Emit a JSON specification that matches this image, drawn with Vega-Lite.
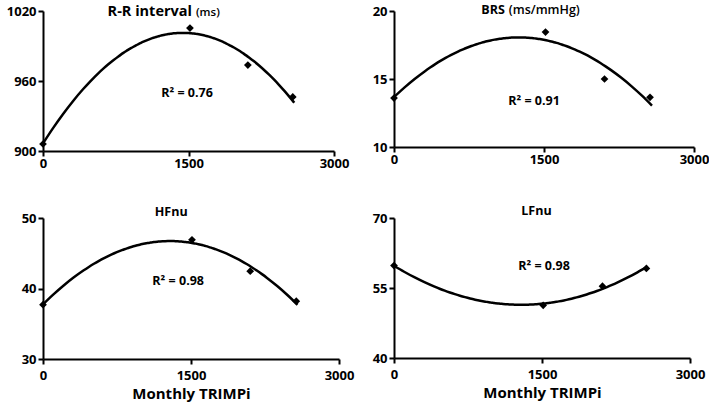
{
  "$schema": "https://vega.github.io/schema/vega-lite/v6.json",
  "padding": {"left": 6, "top": 3, "right": 0, "bottom": 1},
  "background": "white",
  "datasets": {
    "pts": [
      {"panel": "RR", "x": 0, "y": 906},
      {"panel": "RR", "x": 1515, "y": 1005.4},
      {"panel": "RR", "x": 2112, "y": 973.7},
      {"panel": "RR", "x": 2575, "y": 946.3},
      {"panel": "BRS", "x": 0, "y": 13.6},
      {"panel": "BRS", "x": 1515, "y": 18.45},
      {"panel": "BRS", "x": 2105, "y": 15.0},
      {"panel": "BRS", "x": 2560, "y": 13.65},
      {"panel": "HF", "x": 0, "y": 37.7},
      {"panel": "HF", "x": 1510, "y": 46.9},
      {"panel": "HF", "x": 2100, "y": 42.45},
      {"panel": "HF", "x": 2567, "y": 38.2},
      {"panel": "LF", "x": 0, "y": 59.8},
      {"panel": "LF", "x": 1512, "y": 51.3},
      {"panel": "LF", "x": 2113, "y": 55.4},
      {"panel": "LF", "x": 2558, "y": 59.2}
    ],
    "labels": [
      {"panel": "RR", "kind": "main", "x": 1536, "y": 1019, "t": "R-R interval"},
      {"panel": "RR", "kind": "sub", "x": 1577, "y": 1019, "t": "(ms)"},
      {"panel": "RR", "kind": "r2", "x": 1485, "y": 949.7, "t": "R² = 0.76"},
      {"panel": "BRS", "kind": "main", "x": 1109, "y": 20.1, "t": "BRS"},
      {"panel": "BRS", "kind": "sub", "x": 1148, "y": 20.1, "t": "(ms/mmHg)"},
      {"panel": "BRS", "kind": "r2", "x": 1400, "y": 13.4, "t": "R² = 0.91"},
      {"panel": "HF", "kind": "main", "x": 1299, "y": 50.8, "t": "HFnu"},
      {"panel": "HF", "kind": "r2", "x": 1370, "y": 41.1, "t": "R² = 0.98"},
      {"panel": "LF", "kind": "main", "x": 1444, "y": 71.4, "t": "LFnu"},
      {"panel": "LF", "kind": "r2", "x": 1520, "y": 59.8, "t": "R² = 0.98"}
    ]
  },
  "config": {
    "font": "Open Sans",
    "view": {"stroke": null},
    "axis": {
      "grid": false,
      "domainColor": "black",
      "domainWidth": 2,
      "tickColor": "black",
      "tickWidth": 2,
      "tickSize": 5,
      "labelFont": "Open Sans",
      "labelFontWeight": "bold",
      "labelFontSize": 13,
      "labelColor": "black",
      "labelPadding": 2,
      "titleFont": "Open Sans",
      "titleFontWeight": "bold",
      "titleFontSize": 15,
      "titleColor": "black",
      "format": "d"
    }
  },
  "columns": 2,
  "spacing": {"row": 35, "column": 18},
  "concat": [
    {
      "width": 291, "height": 140,
      "layer": [
        {"data": {"name": "pts"}, "transform": [{"filter": "datum.panel === 'RR'"}, {"regression": "y", "on": "x", "method": "poly", "order": 2, "extent": [0, 2590]}],
         "mark": {"type": "line", "color": "black", "strokeWidth": 2.5, "interpolate": "monotone"},
         "encoding": {
           "x": {"field": "x", "type": "quantitative", "scale": {"domain": [0, 3000], "nice": false}, "axis": {"values": [0, 1500, 3000], "title": null, "labelFlush": false, "labelPadding": 1}},
           "y": {"field": "y", "type": "quantitative", "scale": {"domain": [900, 1020], "nice": false, "zero": false}, "axis": {"values": [900, 960, 1020], "title": null}}
         }},
        {"data": {"name": "pts"}, "transform": [{"filter": "datum.panel === 'RR'"}],
         "mark": {"type": "point", "shape": "diamond", "filled": true, "color": "black", "size": 60, "opacity": 1},
         "encoding": {"x": {"field": "x", "type": "quantitative"}, "y": {"field": "y", "type": "quantitative"}}},
        {"data": {"name": "labels"}, "transform": [{"filter": "datum.panel === 'RR' && datum.kind === 'main'"}],
         "mark": {"type": "text", "align": "right", "baseline": "middle", "fontWeight": "bold", "fontSize": 14.5, "color": "black"},
         "encoding": {"x": {"field": "x", "type": "quantitative"}, "y": {"field": "y", "type": "quantitative"}, "text": {"field": "t"}}},
        {"data": {"name": "labels"}, "transform": [{"filter": "datum.panel === 'RR' && datum.kind === 'sub'"}],
         "mark": {"type": "text", "align": "left", "baseline": "middle", "fontWeight": 600, "fontSize": 11.5, "color": "black", "dy": 1},
         "encoding": {"x": {"field": "x", "type": "quantitative"}, "y": {"field": "y", "type": "quantitative"}, "text": {"field": "t"}}},
        {"data": {"name": "labels"}, "transform": [{"filter": "datum.panel === 'RR' && datum.kind === 'r2'"}],
         "mark": {"type": "text", "align": "center", "baseline": "middle", "fontWeight": "bold", "fontSize": 12.5, "color": "black"},
         "encoding": {"x": {"field": "x", "type": "quantitative"}, "y": {"field": "y", "type": "quantitative"}, "text": {"field": "t"}}}
      ]
    },
    {
      "width": 300, "height": 136,
      "layer": [
        {"data": {"name": "pts"}, "transform": [{"filter": "datum.panel === 'BRS'"}, {"regression": "y", "on": "x", "method": "poly", "order": 2, "extent": [0, 2580]}],
         "mark": {"type": "line", "color": "black", "strokeWidth": 2.5, "interpolate": "monotone"},
         "encoding": {
           "x": {"field": "x", "type": "quantitative", "scale": {"domain": [0, 3000], "nice": false}, "axis": {"values": [0, 1500, 3000], "title": null, "labelFlush": false, "labelPadding": 1}},
           "y": {"field": "y", "type": "quantitative", "scale": {"domain": [10, 20], "nice": false, "zero": false}, "axis": {"values": [10, 15, 20], "title": null}}
         }},
        {"data": {"name": "pts"}, "transform": [{"filter": "datum.panel === 'BRS'"}],
         "mark": {"type": "point", "shape": "diamond", "filled": true, "color": "black", "size": 60, "opacity": 1},
         "encoding": {"x": {"field": "x", "type": "quantitative"}, "y": {"field": "y", "type": "quantitative"}}},
        {"data": {"name": "labels"}, "transform": [{"filter": "datum.panel === 'BRS' && datum.kind === 'main'"}],
         "mark": {"type": "text", "align": "right", "baseline": "middle", "fontWeight": "bold", "fontSize": 12.5, "color": "black"},
         "encoding": {"x": {"field": "x", "type": "quantitative"}, "y": {"field": "y", "type": "quantitative"}, "text": {"field": "t"}}},
        {"data": {"name": "labels"}, "transform": [{"filter": "datum.panel === 'BRS' && datum.kind === 'sub'"}],
         "mark": {"type": "text", "align": "left", "baseline": "middle", "fontWeight": 600, "fontSize": 12.5, "color": "black"},
         "encoding": {"x": {"field": "x", "type": "quantitative"}, "y": {"field": "y", "type": "quantitative"}, "text": {"field": "t"}}},
        {"data": {"name": "labels"}, "transform": [{"filter": "datum.panel === 'BRS' && datum.kind === 'r2'"}],
         "mark": {"type": "text", "align": "center", "baseline": "middle", "fontWeight": "bold", "fontSize": 12.5, "color": "black"},
         "encoding": {"x": {"field": "x", "type": "quantitative"}, "y": {"field": "y", "type": "quantitative"}, "text": {"field": "t"}}}
      ]
    },
    {
      "width": 296, "height": 141,
      "layer": [
        {"data": {"name": "pts"}, "transform": [{"filter": "datum.panel === 'HF'"}, {"regression": "y", "on": "x", "method": "poly", "order": 2, "extent": [0, 2580]}],
         "mark": {"type": "line", "color": "black", "strokeWidth": 2.5, "interpolate": "monotone"},
         "encoding": {
           "x": {"field": "x", "type": "quantitative", "scale": {"domain": [0, 3000], "nice": false}, "axis": {"values": [0, 1500, 3000], "title": "Monthly TRIMPi", "labelFlush": false, "labelPadding": 5, "titlePadding": 4}},
           "y": {"field": "y", "type": "quantitative", "scale": {"domain": [30, 50], "nice": false, "zero": false}, "axis": {"values": [30, 40, 50], "title": null}}
         }},
        {"data": {"name": "pts"}, "transform": [{"filter": "datum.panel === 'HF'"}],
         "mark": {"type": "point", "shape": "diamond", "filled": true, "color": "black", "size": 60, "opacity": 1},
         "encoding": {"x": {"field": "x", "type": "quantitative"}, "y": {"field": "y", "type": "quantitative"}}},
        {"data": {"name": "labels"}, "transform": [{"filter": "datum.panel === 'HF' && datum.kind === 'main'"}],
         "mark": {"type": "text", "align": "center", "baseline": "middle", "fontWeight": "bold", "fontSize": 12.5, "color": "black"},
         "encoding": {"x": {"field": "x", "type": "quantitative"}, "y": {"field": "y", "type": "quantitative"}, "text": {"field": "t"}}},
        {"data": {"name": "labels"}, "transform": [{"filter": "datum.panel === 'HF' && datum.kind === 'r2'"}],
         "mark": {"type": "text", "align": "center", "baseline": "middle", "fontWeight": "bold", "fontSize": 12.5, "color": "black"},
         "encoding": {"x": {"field": "x", "type": "quantitative"}, "y": {"field": "y", "type": "quantitative"}, "text": {"field": "t"}}}
      ]
    },
    {
      "width": 296, "height": 140,
      "layer": [
        {"data": {"name": "pts"}, "transform": [{"filter": "datum.panel === 'LF'"}, {"regression": "y", "on": "x", "method": "poly", "order": 2, "extent": [0, 2570]}],
         "mark": {"type": "line", "color": "black", "strokeWidth": 2.5, "interpolate": "monotone"},
         "encoding": {
           "x": {"field": "x", "type": "quantitative", "scale": {"domain": [0, 3000], "nice": false}, "axis": {"values": [0, 1500, 3000], "title": "Monthly TRIMPi", "labelFlush": false, "labelPadding": 5, "titlePadding": 4}},
           "y": {"field": "y", "type": "quantitative", "scale": {"domain": [40, 70], "nice": false, "zero": false}, "axis": {"values": [40, 55, 70], "title": null}}
         }},
        {"data": {"name": "pts"}, "transform": [{"filter": "datum.panel === 'LF'"}],
         "mark": {"type": "point", "shape": "diamond", "filled": true, "color": "black", "size": 60, "opacity": 1},
         "encoding": {"x": {"field": "x", "type": "quantitative"}, "y": {"field": "y", "type": "quantitative"}}},
        {"data": {"name": "labels"}, "transform": [{"filter": "datum.panel === 'LF' && datum.kind === 'main'"}],
         "mark": {"type": "text", "align": "center", "baseline": "middle", "fontWeight": "bold", "fontSize": 12.5, "color": "black"},
         "encoding": {"x": {"field": "x", "type": "quantitative"}, "y": {"field": "y", "type": "quantitative"}, "text": {"field": "t"}}},
        {"data": {"name": "labels"}, "transform": [{"filter": "datum.panel === 'LF' && datum.kind === 'r2'"}],
         "mark": {"type": "text", "align": "center", "baseline": "middle", "fontWeight": "bold", "fontSize": 12.5, "color": "black"},
         "encoding": {"x": {"field": "x", "type": "quantitative"}, "y": {"field": "y", "type": "quantitative"}, "text": {"field": "t"}}}
      ]
    }
  ]
}
